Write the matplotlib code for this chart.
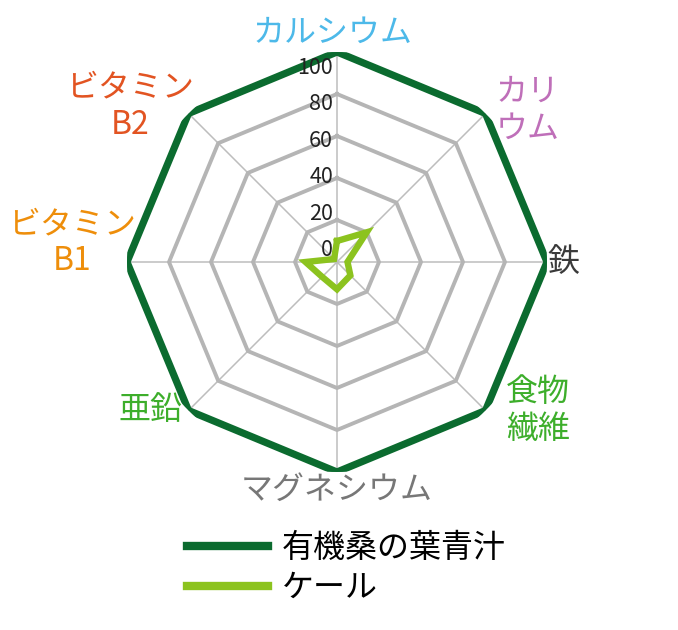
import numpy as np
import matplotlib
matplotlib.use('Agg')
import matplotlib.pyplot as plt
from matplotlib.transforms import offset_copy

plt.rcParams['font.family'] = ['Noto Sans CJK JP', 'DejaVu Sans']

# データ
categories = ['カルシウム', 'カリウム', '鉄', '食物繊維', 'マグネシウム', '亜鉛', 'ビタミンB1', 'ビタミンB2']
mulberry = [100, 100, 100, 100, 100, 100, 100, 100]
kale = [10, 20, 5, 9, 13, 10, 15, 2]
series_names = ['有機桑の葉青汁', 'ケール']
ticks = [0, 20, 40, 60, 80, 100]

# ラベル表示（改行・色）
label_texts = ['カルシウム', 'カリ\nウム', '鉄', '食物\n繊維', 'マグネシウム', '亜鉛', 'ビタミン\nB1', 'ビタミン\nB2']
label_colors = ['#4DB9E9', '#BF6FB9', '#3A3A3A', '#3DAE2B', '#777777', '#3DAE2B', '#EE8E0B', '#E25422']
label_pos = [(333, 33), (528, 110), (563, 262), (538, 410), (337, 490), (150, 410), (72, 243), (130, 106)]

W, H = 678, 630
fig = plt.figure(figsize=(W / 100, H / 100), dpi=100)
cx, cy, R = 337, 262, 210
ax = fig.add_axes([(cx - R) / W, (H - cy - R) / H, 2 * R / W, 2 * R / H], projection='polar')
ax.set_theta_zero_location('N')
ax.set_theta_direction(-1)
ax.set_ylim(0, 100)
ax.set_xticks([])
ax.set_yticks([])
ax.grid(False)
ax.spines['polar'].set_visible(False)
ax.patch.set_visible(False)

n = len(categories)
theta = np.arange(n) * 2 * np.pi / n
theta_c = np.append(theta, theta[0])

# スポーク
for t in theta:
    ax.plot([t, t], [0, 100], color='#BDBDBD', lw=1.1, zorder=1)

# グリッド（八角形）
for v in ticks[1:-1]:
    ax.plot(theta_c, [v] * (n + 1), color='#B5B5B5', lw=2.8, zorder=2)

l1, = ax.plot(theta_c, mulberry + mulberry[:1], color='#0B6B2F', lw=5.2, zorder=3,
              solid_joinstyle='miter')
l2, = ax.plot(theta_c, kale + kale[:1], color='#8CC31F', lw=4.6, zorder=4,
              solid_joinstyle='miter')

# 目盛りラベル
tr = offset_copy(ax.transData, fig=fig, x=-4, y=0, units='dots')
for v in ticks:
    ax.text(0, 5.7 + 0.867 * v, str(v), transform=tr, ha='right', va='center',
            fontsize=15.5, color='#222222', zorder=5)

# 項目ラベル
for txt, col, (x, y) in zip(label_texts, label_colors, label_pos):
    fig.text(x / W, 1 - y / H, txt, color=col, fontsize=23, ha='center', va='center',
             linespacing=1.2)

leg = fig.legend([l1, l2], series_names, loc='center left',
                 bbox_to_anchor=(187 / W, 1 - 568 / H), frameon=False,
                 borderpad=0, borderaxespad=0,
                 fontsize=23, handlelength=2.55, handletextpad=0.42, labelspacing=0.25)
for h in leg.legend_handles:
    h.set_linewidth(6)

fig.savefig('out.png', dpi=100)
